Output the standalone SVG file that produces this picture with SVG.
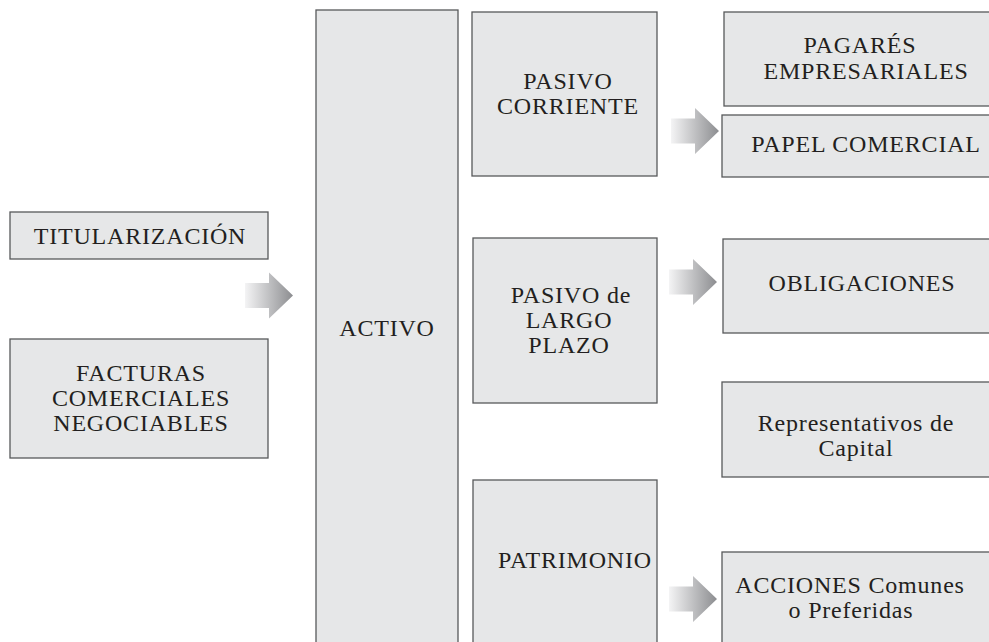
<svg xmlns="http://www.w3.org/2000/svg" xmlns:xlink="http://www.w3.org/1999/xlink" width="989" height="642" viewBox="0 0 989 642">
<defs>
<style>
.box{fill:#e6e7e8;stroke:#58595b;stroke-width:1.3}
.t{font-size:24px;fill:#231f20;text-anchor:middle;letter-spacing:0.8px}
.arrow{fill:url(#ag)}
</style>
<linearGradient id="ag" x1="0" y1="0" x2="1" y2="0">
<stop offset="0" stop-color="#f4f4f5"/>
<stop offset="1" stop-color="#8c8d90"/>
</linearGradient>
<path id="arr" class="arrow" d="M0,-12.5 H24 V-23 L48,0 L24,23 V12.5 H0 Z"/>
</defs>
<rect width="989" height="642" fill="#ffffff"/>
<g font-family="Liberation Serif, DejaVu Serif, Times New Roman, serif">
<g id="titularizacion"><rect class="box" x="10" y="212" width="258" height="47"/><text class="t" x="140" y="244">TITULARIZACIÓN</text></g>
<g id="facturas"><rect class="box" x="10" y="339" width="258" height="119"/><text class="t" x="141" y="381">FACTURAS</text><text class="t" x="141" y="406">COMERCIALES</text><text class="t" x="141" y="431">NEGOCIABLES</text></g>
<g id="activo"><rect class="box" x="316" y="10" width="142" height="645"/><text class="t" x="387" y="336">ACTIVO</text></g>
<g id="pasivo-corriente"><rect class="box" x="472" y="12" width="185" height="164"/><text class="t" x="568" y="89">PASIVO</text><text class="t" x="568" y="114">CORRIENTE</text></g>
<g id="pasivo-largo"><rect class="box" x="473" y="238" width="184" height="165"/><text class="t" x="571" y="303">PASIVO de</text><text class="t" x="569" y="328">LARGO</text><text class="t" x="569" y="353">PLAZO</text></g>
<g id="patrimonio"><rect class="box" x="473" y="480" width="184" height="175"/><text class="t" x="575" y="568">PATRIMONIO</text></g>
<g id="pagares"><rect class="box" x="724" y="12" width="280" height="94"/><text class="t" x="860" y="53">PAGARÉS</text><text class="t" x="866" y="79">EMPRESARIALES</text></g>
<g id="papel"><rect class="box" x="722" y="115" width="282" height="62"/><text class="t" x="866" y="152">PAPEL COMERCIAL</text></g>
<g id="obligaciones"><rect class="box" x="723" y="239" width="281" height="94"/><text class="t" x="862" y="291">OBLIGACIONES</text></g>
<g id="representativos"><rect class="box" x="722" y="382" width="282" height="95"/><text class="t" x="856" y="431">Representativos de</text><text class="t" x="856" y="456">Capital</text></g>
<g id="acciones"><rect class="box" x="722" y="552" width="282" height="100"/><text class="t" x="850" y="593">ACCIONES Comunes</text><text class="t" x="851" y="618">o Preferidas</text></g>
</g>
<g id="connectors">
<use xlink:href="#arr" href="#arr" transform="translate(245,295.5)"/>
<use xlink:href="#arr" href="#arr" transform="translate(671,131)"/>
<use xlink:href="#arr" href="#arr" transform="translate(669,282)"/>
<use xlink:href="#arr" href="#arr" transform="translate(669,599)"/>
</g>
</svg>
